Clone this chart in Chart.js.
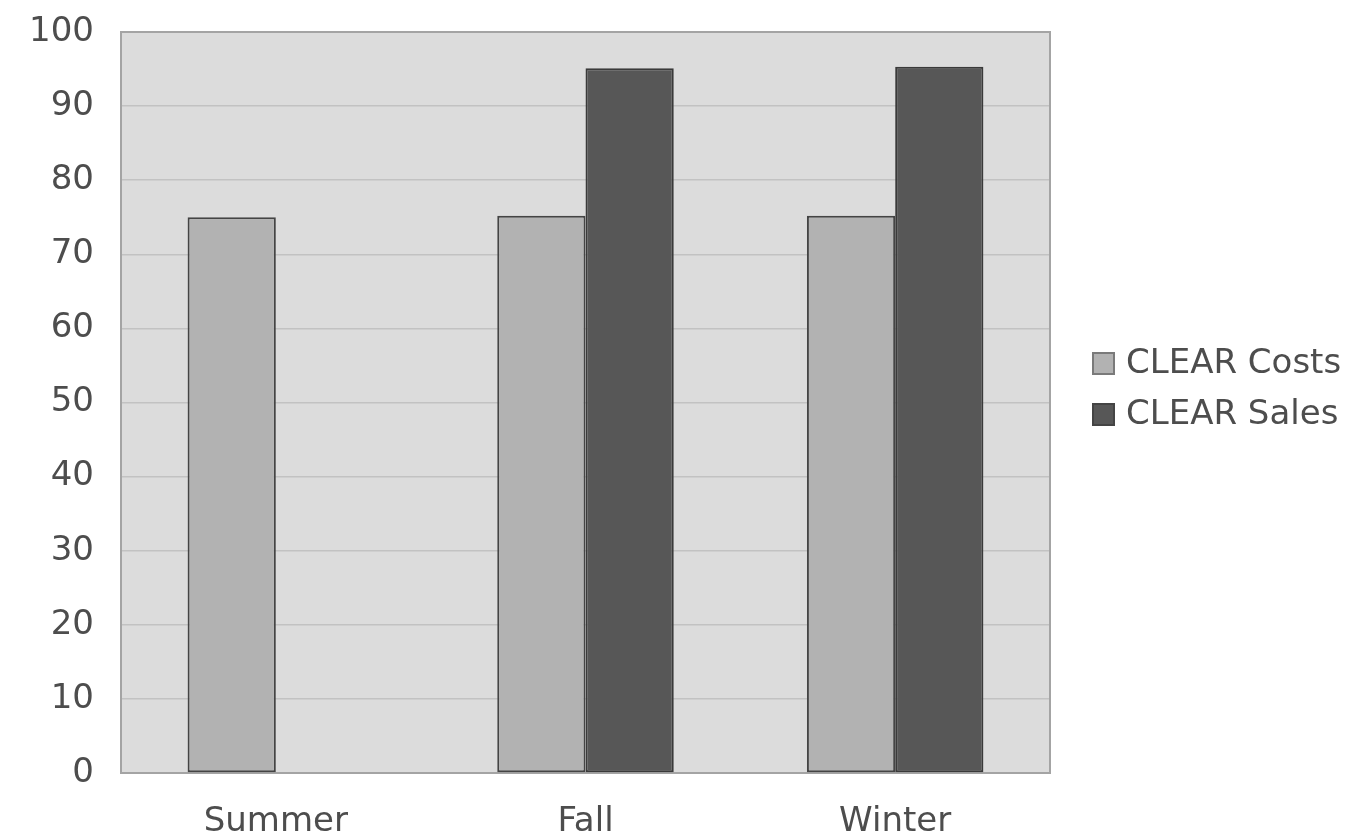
<!DOCTYPE html>
<html>
<head>
<meta charset="utf-8">
<script src="https://cdn.jsdelivr.net/npm/chart.js@4/dist/chart.umd.min.js"></script>
<style>
  html, body { margin: 0; padding: 0; background: #ffffff; }
  #wrap { position: relative; width: 1351px; height: 839px; }
</style>
</head>
<body>
<div id="wrap"><canvas id="chart"></canvas></div>
<script>
// Seasonal figures for the CLEAR line
const seasons = ['Summer', 'Fall', 'Winter'];
const clearCosts = [75.0, 75.2, 75.2];
const clearSales = [null, 95.1, 95.3];
const yTicks = [0, 10, 20, 30, 40, 50, 60, 70, 80, 90, 100];

const FONT = '"DejaVu Sans", Verdana, sans-serif';
const TEXT = '#4d4d4d';

// Grey plot panel with a thin frame, painted under the grid
const plotPanel = {
  id: 'plotPanel',
  beforeDraw(chart) {
    const { ctx, chartArea: a } = chart;
    ctx.save();
    ctx.fillStyle = '#dcdcdc';
    ctx.fillRect(a.left, a.top, a.right - a.left, a.bottom - a.top);
    ctx.restore();
  },
  beforeDatasetsDraw(chart) {
    const { ctx, chartArea: a } = chart;
    ctx.save();
    ctx.strokeStyle = '#a4a4a4';
    ctx.lineWidth = 2;
    ctx.strokeRect(a.left, a.top, a.right - a.left, a.bottom - a.top);
    ctx.restore();
  }
};

// Series key stacked to the right of the plot
const sideKey = {
  id: 'sideKey',
  afterDraw(chart) {
    const { ctx } = chart;
    const x = 1092, size = 23, gap = 51, y0 = 352;
    ctx.save();
    chart.data.datasets.forEach((ds, i) => {
      const y = y0 + i * gap;
      ctx.fillStyle = ds.backgroundColor;
      ctx.fillRect(x, y, size, size);
      ctx.strokeStyle = ds.keyBorder;
      ctx.lineWidth = 2;
      ctx.strokeRect(x + 1, y + 1, size - 2, size - 2);
      ctx.fillStyle = TEXT;
      ctx.font = '34px ' + FONT;
      ctx.textBaseline = 'middle';
      ctx.textAlign = 'left';
      ctx.fillText(ds.label, x + size + 11, y + size / 2 + 1);
    });
    ctx.restore();
  }
};

new Chart(document.getElementById('chart'), {
  type: 'bar',
  data: {
    labels: seasons,
    datasets: [
      {
        label: 'CLEAR Costs',
        data: clearCosts,
        backgroundColor: '#b2b2b2',
        borderColor: '#444444',
        keyBorder: '#7a7a7a',
        borderWidth: 2,
        borderSkipped: false
      },
      {
        label: 'CLEAR Sales',
        data: clearSales,
        backgroundColor: '#575757',
        borderColor: '#3a3a3a',
        keyBorder: '#444444',
        borderWidth: 2,
        borderSkipped: false
      }
    ]
  },
  options: {
    responsive: true,
    maintainAspectRatio: false,
    animation: false,
    layout: { padding: { left: 0, right: 301, top: 32, bottom: 0 } },
    datasets: { bar: { categoryPercentage: 0.57, barPercentage: 1.0 } },
    plugins: {
      legend: { display: false },
      tooltip: { enabled: false }
    },
    scales: {
      x: {
        grid: { display: false, drawTicks: false },
        border: { display: true, color: '#8a8a8a', width: 2 },
        afterFit(scale) { scale.height = 66; },
        ticks: {
          color: TEXT,
          padding: 32,
          font: { family: FONT, size: 34, lineHeight: 1 }
        }
      },
      y: {
        min: 0,
        max: 100,
        afterBuildTicks(scale) { scale.ticks = yTicks.map(v => ({ value: v })); },
        afterFit(scale) {
          scale.width = 121;
          scale.paddingTop = 0;
          scale.paddingBottom = 0;
        },
        grid: { color: '#c2c2c2', lineWidth: 1.5, drawTicks: false },
        border: { display: true, color: '#a8a8a8', width: 2 },
        ticks: {
          color: TEXT,
          padding: 27,
          font: { family: FONT, size: 34, lineHeight: 1.2 }
        }
      }
    }
  },
  plugins: [plotPanel, sideKey]
});
</script>
</body>
</html>
